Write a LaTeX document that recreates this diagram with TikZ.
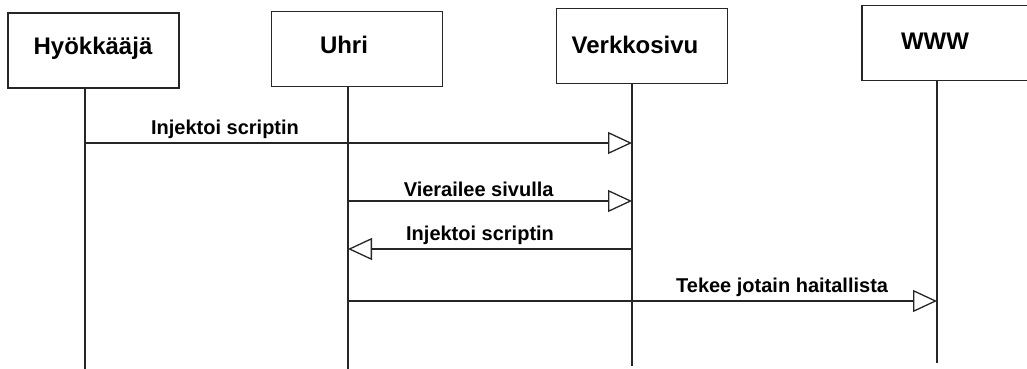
\documentclass[tikz,border=0pt]{standalone}
\usepackage{fontspec}
\setmainfont{Liberation Sans}
\usetikzlibrary{arrows.meta}

\def\bw{171pt}
\def\bh{75pt}

\begin{document}
\begin{tikzpicture}[x=1pt,y=1pt,
    actor/.style={draw=black!85,line width=1.4pt,minimum width=\bw,minimum height=\bh,inner sep=0pt},
    aname/.style={font=\fontsize{24}{28}\selectfont\bfseries,anchor=base,inner sep=0pt},
    msg/.style={font=\fontsize{20}{24}\selectfont\bfseries},
    lifeline/.style={draw=black!85,line width=1.4pt},
    call/.style={draw=black!85,line width=1.4pt,-{Triangle[open,length=24pt,width=22pt,line width=1.3pt]}}]
    \clip (0,0) rectangle (1027,-369);

    % actors
    \node[actor] (hyo) at (93.5,-50.5) {};
    \node[actor] (uhri) at (357,-49) {};
    \node[actor] (verkko) at (642,-46) {};
    \node[actor,minimum width=176pt] (www) at (950,-43) {};
    \node[aname] (hyoT) at (93,-55) {Hyökkääjä};
    \node[aname] (uhriT) at (344,-54) {Uhri};
    \node[aname] (verkkoT) at (635,-53) {Verkkosivu};
    \node[aname] (wwwT) at (935,-49) {WWW};

    % lifelines
    \coordinate (hyoE) at (85,-369);
    \coordinate (uhriE) at (348,-369);
    \coordinate (verkkoE) at (632,-366);
    \coordinate (wwwE) at (937,-363);
    \path[lifeline] (hyoE |- hyo.south) -- (hyoE);
    \path[lifeline] (uhriE |- uhri.south) -- (uhriE);
    \path[lifeline] (verkkoE |- verkko.south) -- (verkkoE);
    \path[lifeline] (wwwE |- www.south) -- (wwwE);

    % messages
    \coordinate (m1) at (0,-143);
    \coordinate (m2) at (0,-201);
    \coordinate (m3) at (0,-249);
    \coordinate (m4) at (0,-301);
    \path[call] (hyoE |- m1) -- node[msg,above,pos=0.256] {Injektoi scriptin} (verkkoE |- m1);
    \path[call] (uhriE |- m2) -- node[msg,above,pos=0.46] {Vierailee sivulla} (verkkoE |- m2);
    \path[call] (verkkoE |- m3) -- node[msg,above,pos=0.535] {Injektoi scriptin} (uhriE |- m3);
    \path[call] (uhriE |- m4) -- node[msg,above,pos=0.737] {Tekee jotain haitallista} (wwwE |- m4);

\end{tikzpicture}
\end{document}
